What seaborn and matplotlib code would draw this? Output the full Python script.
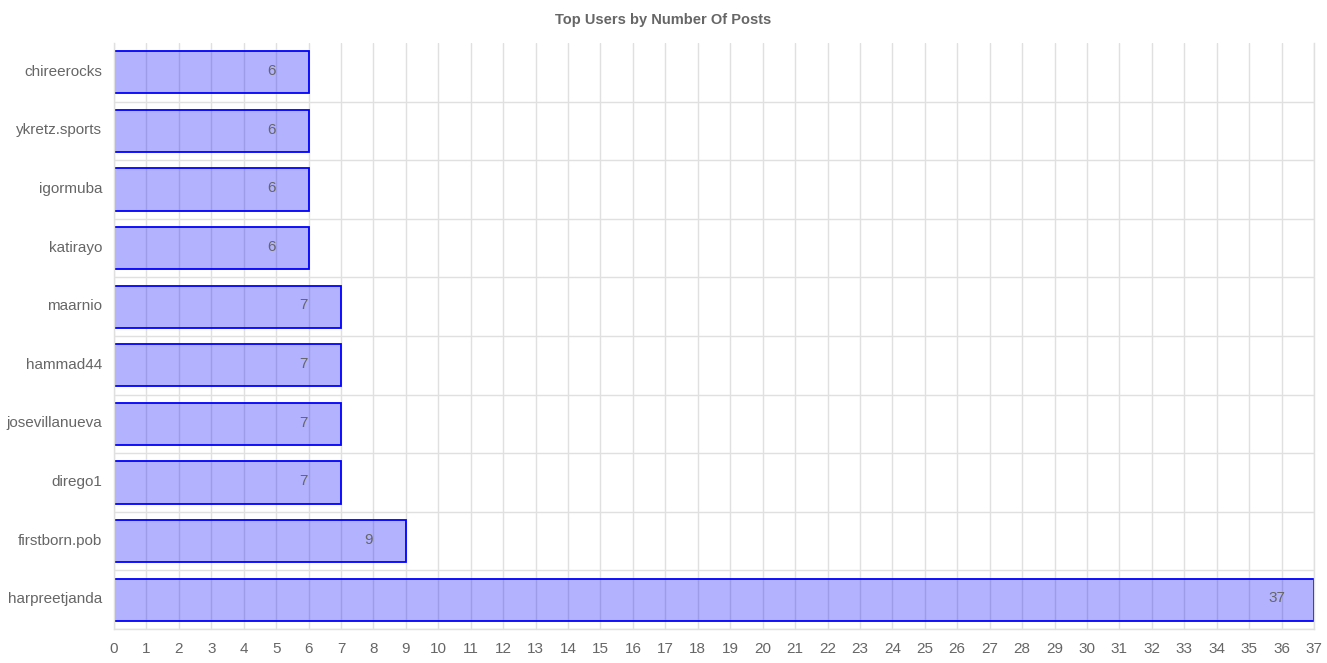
import matplotlib
matplotlib.use("Agg")
import matplotlib.pyplot as plt
import matplotlib.transforms as mtransforms
import seaborn as sns
import pandas as pd
from matplotlib.ticker import MultipleLocator, FixedLocator

users = ["chireerocks", "ykretz.sports", "igormuba", "katirayo", "maarnio",
         "hammad44", "josevillanueva", "dirego1", "firstborn.pob", "harpreetjanda"]
posts = [6, 6, 6, 6, 7, 7, 7, 7, 9, 37]
title = "Top Users by Number Of Posts"

df = pd.DataFrame({"user": users, "posts": posts})

sns.set_theme(style="white")
plt.rcParams["font.family"] = ["Liberation Sans", "DejaVu Sans"]

fig = plt.figure(figsize=(13.27, 6.63), dpi=100)
ax = fig.add_axes([114/1327, 34/663, 1200/1327, 586/663])

sns.barplot(data=df, x="posts", y="user", orient="h", ax=ax, width=0.72,
            color=(0, 0, 1), saturation=1)
for p in ax.patches:
    p.set_facecolor((0, 0, 1, 0.3))
    p.set_edgecolor((0, 0, 1, 1))
    p.set_linewidth(1.3)

for i, v in enumerate(posts):
    ax.annotate(str(v), xy=(v, i), xytext=(-27, 1), textcoords="offset points",
                ha="center", va="center", fontsize=11, color="#666666")

ax.set_xlim(0, 37)
ax.set_ylim(len(users) - 0.5, -0.5)
ax.xaxis.set_major_locator(MultipleLocator(1))
ax.yaxis.set_minor_locator(FixedLocator([k + 0.5 for k in range(len(users))]))

ax.set_axisbelow(True)
ax.grid(True, axis="x", which="major", color="#e0e0e0", linewidth=1)
ax.grid(True, axis="y", which="minor", color="#e0e0e0", linewidth=1)
ax.grid(False, axis="y", which="major")

ax.tick_params(axis="x", which="major", length=6, color="#e0e0e0", width=1,
               labelsize=11, labelcolor="#666666", pad=3.5)
ax.tick_params(axis="y", which="major", length=0, labelsize=11,
               labelcolor="#666666", pad=8.5)
ax.tick_params(axis="y", which="minor", length=9, color="#e0e0e0", width=1)

shift = mtransforms.ScaledTranslation(0, 2/100, fig.dpi_scale_trans)
for lbl in ax.get_yticklabels():
    lbl.set_transform(lbl.get_transform() + shift)

ax.spines["top"].set_visible(False)
for s in ["left", "bottom", "right"]:
    ax.spines[s].set_color("#e0e0e0")
    ax.spines[s].set_linewidth(1)

ax.set_xlabel("")
ax.set_ylabel("")
fig.text(0.5, 1 - 20/663, title, ha="center", va="center",
         fontsize=10.5, fontweight="bold", color="#666666")

fig.savefig("out.png", dpi=100)
